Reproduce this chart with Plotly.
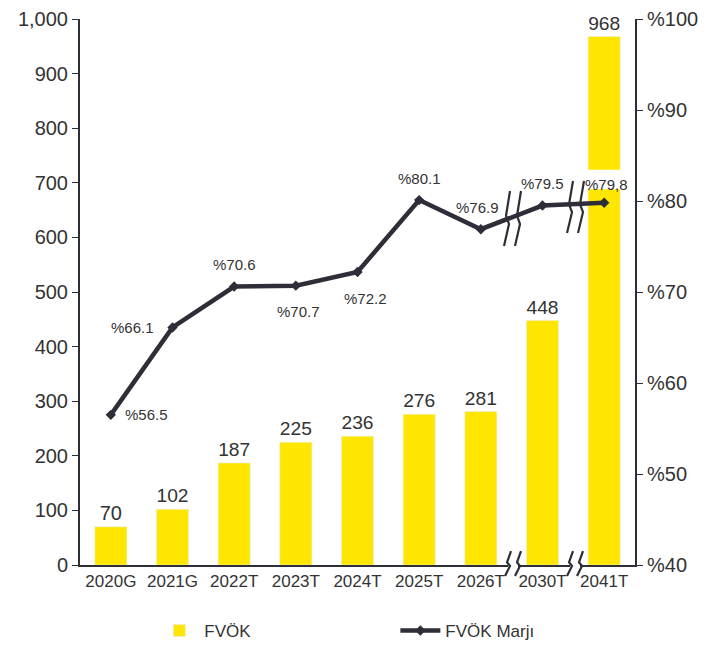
import plotly.graph_objects as go

categories = ["2020G", "2021G", "2022T", "2023T", "2024T", "2025T", "2026T", "2030T", "2041T"]
fvok = [70, 102, 187, 225, 236, 276, 281, 448, 968]
marj = [56.5, 66.1, 70.6, 70.7, 72.2, 80.1, 76.9, 79.5, 79.8]
marj_labels = ["%56.5", "%66.1", "%70.6", "%70.7", "%72.2", "%80.1", "%76.9", "%79.5", "%79,8"]

YELLOW = "#FFE600"
DARK = "#2E2E38"
TXT = "#333333"
FONT = "Liberation Sans, Arial, sans-serif"

# figure geometry (page body has 8px margin)
W, H = 701, 641
ML, MR, MT, MB = 72, 74, 11, 84
PW, PH = W - ML - MR, H - MT - MB
OFF = 8

xs = list(range(len(categories)))

fig = go.Figure()
fig.add_trace(go.Bar(
    x=xs, y=fvok, name="FVÖK", marker_color=YELLOW, width=0.52,
    text=[str(v) for v in fvok], textposition="outside",
    textfont=dict(size=20, color=TXT, family=FONT), cliponaxis=False,
))
fig.add_trace(go.Scatter(
    x=xs, y=marj, name="FVÖK Marjı", yaxis="y2", mode="lines+markers",
    line=dict(color=DARK, width=4.5), marker=dict(symbol="diamond", size=8, color=DARK),
    cliponaxis=False,
))

# label offsets (pixels) for margin labels
offs = [(36, 0), (-40, 0), (0, 22), (3, -26), (8, -27), (0, 22), (-3, 22), (0, 22), (2, 18)]
for i, (lab, (dx, dy)) in enumerate(zip(marj_labels, offs)):
    fig.add_annotation(x=xs[i], y=marj[i], yref="y2", text=lab, showarrow=False,
                       xshift=dx, yshift=dy, font=dict(size=15, color=TXT, family=FONT))

# white gap in the tall bar (axis break)
fig.add_shape(type="rect", xref="x", yref="y", x0=7.72, x1=8.28, y0=688, y1=724,
              fillcolor="white", line=dict(width=0), layer="above")

# window-pixel -> paper conversion
def px2paper_x(px):
    return (px - OFF - ML) / PW

def px2paper_y(py):
    return (MT + PH - (py - OFF)) / PH

def zig(xc, ytop, ybot):
    ym1 = ytop + (ybot - ytop) * 0.45
    ym2 = ytop + (ybot - ytop) * 0.6
    pts = [(xc + 3, ytop), (xc - 1, ym1), (xc + 2, ym2), (xc - 3, ybot)]
    return "M " + " L ".join(f"{px2paper_x(a):.4f},{px2paper_y(b):.4f}" for a, b in pts)

# white gaps on x axis between break marks
for xa, xb in [(508, 518), (570, 580)]:
    fig.add_shape(type="rect", xref="paper", yref="paper",
                  x0=px2paper_x(xa), x1=px2paper_x(xb), y0=px2paper_y(568), y1=px2paper_y(562),
                  fillcolor="white", line=dict(width=0), layer="above")

for xc, yt, yb in [(507, 191, 246), (518, 191, 246), (570, 181, 233), (581, 181, 233),
                   (508, 551, 576), (518, 551, 576), (570, 551, 576), (580, 551, 576)]:
    fig.add_shape(type="path", xref="paper", yref="paper", path=zig(xc, yt, yb),
                  line=dict(color=DARK, width=2.2), layer="above")

fig.update_layout(
    width=W, height=H,
    margin=dict(l=ML, r=MR, t=MT, b=MB, autoexpand=False),
    plot_bgcolor="white", paper_bgcolor="white",
    font=dict(family=FONT, color=TXT),
    showlegend=True,
    legend=dict(orientation="h", x=0.134, xanchor="left", y=px2paper_y(631), yanchor="middle",
                entrywidth=186, entrywidthmode="pixels", font=dict(size=17, color=TXT),
                itemwidth=40),
    xaxis=dict(tickvals=xs, ticktext=categories, range=[-0.5, 8.5],
               showline=True, linecolor=DARK, linewidth=2, ticks="",
               tickfont=dict(size=17, color=TXT), showgrid=False, zeroline=False),
    yaxis=dict(range=[0, 1000], dtick=100, tickformat=",", showline=True, linecolor=DARK,
               linewidth=2, ticks="outside", ticklen=6, tickcolor=DARK, showgrid=False,
               zeroline=False, tickfont=dict(size=20, color=TXT), ticklabeloverflow="allow"),
    yaxis2=dict(range=[40, 100], dtick=10, tickprefix="%", overlaying="y", side="right",
                showline=True, linecolor=DARK, linewidth=2, ticks="outside", ticklen=6,
                tickcolor=DARK, showgrid=False, zeroline=False, tickfont=dict(size=20, color=TXT),
                ticklabeloverflow="allow"),
    bargap=0.48,
)

fig.write_html("out.html")
